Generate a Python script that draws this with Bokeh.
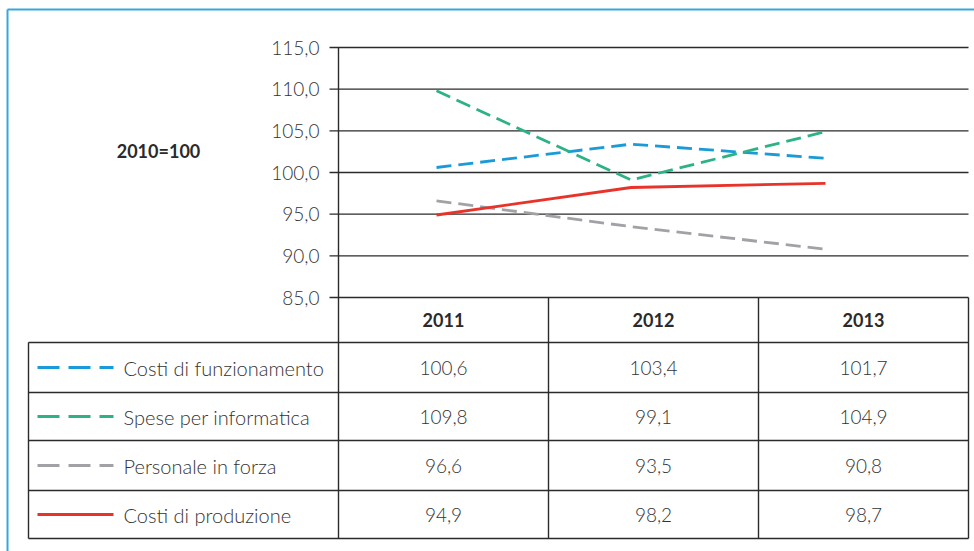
from bokeh.plotting import figure
from bokeh.models import Range1d
from bokeh.embed import file_html
from bokeh.resources import INLINE
from bokeh.core.properties import value

# ---------------- data ----------------
years = [2011, 2012, 2013]
year_labels = ["2011", "2012", "2013"]
series_names = ["Costi di funzionamento", "Spese per informatica",
                "Personale in forza", "Costi di produzione"]
costi_funzionamento = [100.6, 103.4, 101.7]
spese_informatica = [109.8, 99.1, 104.9]
personale_forza = [96.6, 93.5, 90.8]
costi_produzione = [94.9, 98.2, 98.7]
y_ticks = [85, 90, 95, 100, 105, 110, 115]
base_label = "2010=100"

series_values = [costi_funzionamento, spese_informatica, personale_forza, costi_produzione]
colors = ["#1a9bd8", "#2db383", "#a2a2a6", "#e8332a"]
dashes = ["15 7", "15 7", "15 7", "solid"]
legend_dashes = ["22 9", "22 9", "22 9", "solid"]

def fmt(v):
    return f"{v:.1f}".replace(".", ",")

# ---------------- layout (picture pixel coordinates) ----------------
W, H = 974, 551
X0, Y0 = 0, 0
FONT = value("Lato Light, Lato")
FONT_B = value("Lato")
TXT = "#333333"
LINE = "#2b2b2b"

plot_left, plot_right = 338, 968
plot_top, plot_bottom = 47, 297          # y of 115 and 85
x_first, x_last = 436, 825               # x of first and last year
col_edges = [338, 548, 758, 968]
row_edges = [297, 342, 392, 440, 490, 538]
table_left = 28

p = figure(width=W, height=H, output_backend="svg", toolbar_location=None,
           x_range=Range1d(X0, X0 + W), y_range=Range1d(Y0 + H, Y0),
           x_axis_location=None, y_axis_location=None, min_border=0,
           outline_line_color=None, background_fill_color="white",
           border_fill_color="white")
for g in p.grid:
    g.visible = False

v_per_px = (y_ticks[-1] - y_ticks[0]) / (plot_bottom - plot_top)
val_start = y_ticks[0] - (Y0 + H - plot_bottom) * v_per_px
val_end = y_ticks[-1] + (plot_top - Y0) * v_per_px
yr_per_px = (years[-1] - years[0]) / (x_last - x_first)
yr_start = years[0] - (x_first - X0) * yr_per_px
yr_end = years[-1] + (X0 + W - x_last) * yr_per_px
p.extra_y_ranges = {"val": Range1d(val_start, val_end)}
p.extra_x_ranges = {"yr": Range1d(yr_start, yr_end)}

# outer frame (top and left edges visible)
p.segment(x0=[7, 7], y0=[9, 9], x1=[X0 + W, 7], y1=[9, Y0 + H],
          line_color="#35a7de", line_width=2)

# gridlines with tick marks
n = len(y_ticks)
p.segment(x0=[plot_left - 9] * n, x1=[plot_right] * n, y0=y_ticks, y1=y_ticks,
          y_range_name="val", line_color=LINE, line_width=1.4)
p.text(x=[plot_left - 19] * n, y=y_ticks, text=[fmt(t) for t in y_ticks],
       y_range_name="val", text_align="right", text_baseline="middle",
       text_font=FONT, text_font_size="19px", text_color=TXT)

# base label
p.text(x=[158], y=[150], text=[base_label], text_align="center", text_baseline="middle",
       text_font=FONT_B, text_font_size="18px", text_font_style="bold", text_color="#2a2a2a")

# axis line / table verticals
p.segment(x0=[plot_left], x1=[plot_left], y0=[plot_top], y1=[row_edges[-1]],
          line_color=LINE, line_width=1.4)
p.segment(x0=col_edges[1:], x1=col_edges[1:], y0=[row_edges[0]] * 3, y1=[row_edges[-1]] * 3,
          line_color=LINE, line_width=1.4)
p.segment(x0=[table_left], x1=[table_left], y0=[row_edges[1]], y1=[row_edges[-1]],
          line_color=LINE, line_width=1.4)
hr = row_edges[1:]
p.segment(x0=[table_left] * len(hr), x1=[plot_right] * len(hr), y0=hr, y1=hr,
          line_color=LINE, line_width=1.4)

# header
centers = [(col_edges[i] + col_edges[i + 1]) / 2 for i in range(3)]
hy = (row_edges[0] + row_edges[1]) / 2
p.text(x=centers, y=[hy] * 3, text=year_labels, text_align="center", text_baseline="middle",
       text_font=FONT_B, text_font_size="18px", text_font_style="bold", text_color="#2a2a2a")

# series lines, legend samples, rows
for i, (name, vals, c, d, ld) in enumerate(zip(series_names, series_values, colors, dashes, legend_dashes)):
    ry = (row_edges[i + 1] + row_edges[i + 2]) / 2
    p.line(years, vals, x_range_name="yr", y_range_name="val", line_color=c,
           line_width=2.8, line_dash=d)
    p.segment(x0=[37], x1=[113], y0=[ry], y1=[ry], line_color=c, line_width=3, line_dash=ld)
    p.text(x=[123], y=[ry], text=[name], text_align="left", text_baseline="middle",
           text_font=FONT, text_font_size="20px", text_color=TXT)
    p.text(x=centers, y=[ry] * 3, text=[fmt(v) for v in vals], text_align="center",
           text_baseline="middle", text_font=FONT, text_font_size="19px", text_color=TXT)

open("out.html", "w").write(file_html(p, INLINE))
